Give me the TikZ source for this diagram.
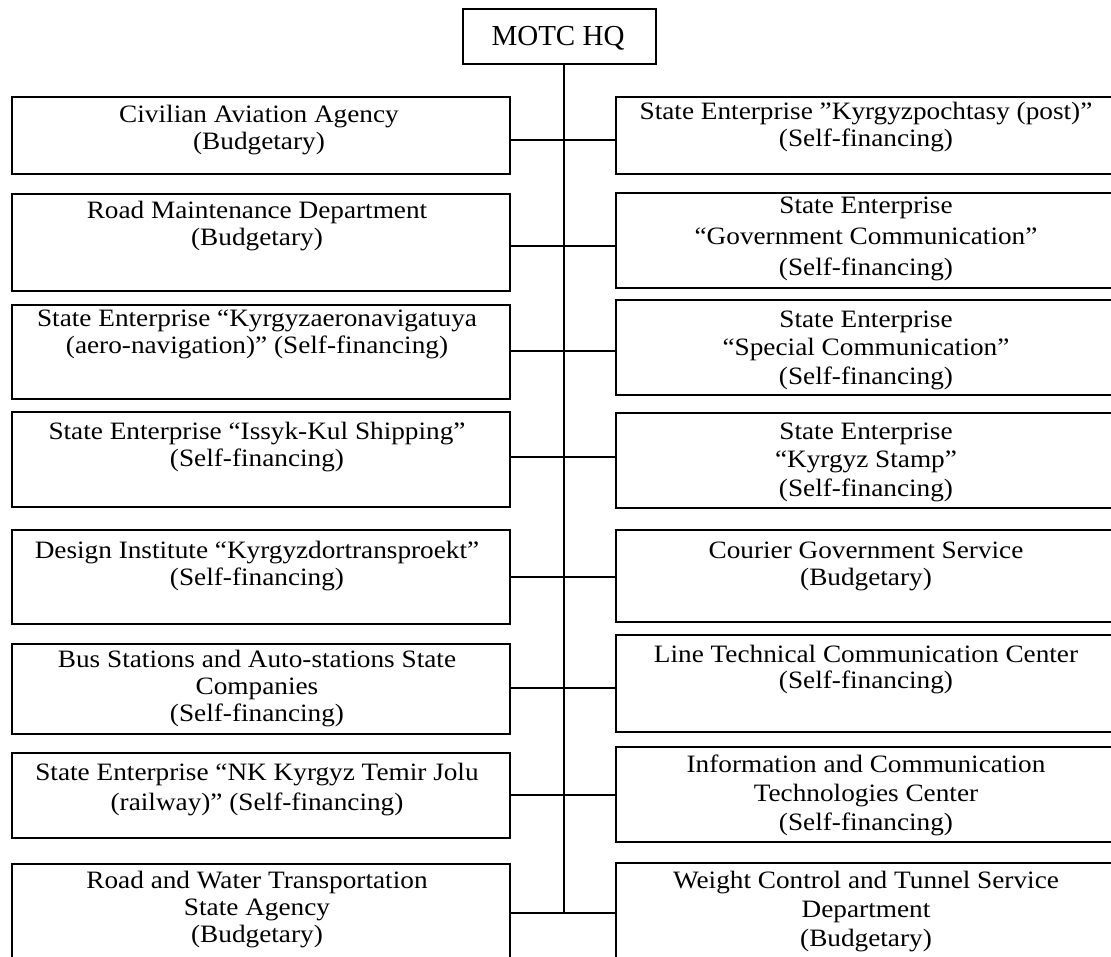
\documentclass[tikz,border=0pt]{standalone}
\usepackage{fontspec}
\setmainfont{Liberation Serif}[FakeStretch=1.09]
\newfontfamily\hqfont{Liberation Serif}
\begin{document}
\begin{tikzpicture}[x=1pt,y=-1pt,
  box/.style={draw,line width=1.8pt,inner sep=0pt,anchor=north west,minimum width=498pt},
  rbox/.style={box,minimum width=502pt},
  txt/.style={anchor=base,align=center,inner sep=0pt,font=\fontsize{25}{27}\selectfont},
  conn/.style={line width=1.4pt}]
\useasboundingbox (0,0) rectangle (1111,956);
\clip (0,0) rectangle (1111,956);

% HQ
\node[draw,line width=1.8pt,inner sep=0pt,minimum width=193pt,minimum height=55pt,anchor=north west] (hq) at (462,8) {};
\node[anchor=base,inner sep=0pt,font=\hqfont\fontsize{29}{32}\selectfont] (hqt) at (558,45) {MOTC HQ};

% left boxes
\node[box,minimum height=77pt] (L1) at (11,96) {};
\node[box,minimum height=97pt] (L2) at (11,193) {};
\node[box,minimum height=94pt] (L3) at (11,304) {};
\node[box,minimum height=95pt] (L4) at (11,411) {};
\node[box,minimum height=94pt] (L5) at (11,529) {};
\node[box,minimum height=90pt] (L6) at (11,643) {};
\node[box,minimum height=85pt] (L7) at (11,752) {};
\node[box,minimum height=120pt] (L8) at (11,863) {};

% right boxes
\node[rbox,minimum height=77pt] (R1) at (615,96) {};
\node[rbox,minimum height=95pt] (R2) at (615,192) {};
\node[rbox,minimum height=95pt] (R3) at (615,299) {};
\node[rbox,minimum height=95pt] (R4) at (615,412) {};
\node[rbox,minimum height=92pt] (R5) at (615,529) {};
\node[rbox,minimum height=97pt] (R6) at (615,634) {};
\node[rbox,minimum height=95pt] (R7) at (615,746) {};
\node[rbox,minimum height=120pt] (R8) at (615,862) {};

% left texts (anchor = baseline of last line)
\node[txt] (L1t) at (259,149) {Civilian Aviation Agency\\(Budgetary)};
\node[txt] (L2t) at (257,245) {Road Maintenance Department\\(Budgetary)};
\node[txt] (L3t) at (257,353) {State Enterprise “Kyrgyzaeronavigatuya\\(aero-navigation)” (Self-financing)};
\node[txt] (L4t) at (257,466) {State Enterprise “Issyk-Kul Shipping”\\(Self-financing)};
\node[txt] (L5t) at (257,585) {Design Institute “Kyrgyzdortransproekt”\\(Self-financing)};
\node[txt] (L6t) at (257,721) {Bus Stations and Auto-stations State\\Companies\\(Self-financing)};
\node[txt,font=\fontsize{25}{30}\selectfont] (L7t) at (257,810) {State Enterprise “NK Kyrgyz Temir Jolu\\(railway)” (Self-financing)};
\node[txt] (L8t) at (257,942) {Road and Water Transportation\\State Agency\\(Budgetary)};

% right texts
\node[txt] (R1t) at (866,146) {State Enterprise ”Kyrgyzpochtasy (post)”\\(Self-financing)};
\node[txt,font=\fontsize{25}{31}\selectfont] (R2t) at (866,275) {State Enterprise\\“Government Communication”\\(Self-financing)};
\node[txt,font=\fontsize{25}{28.5}\selectfont] (R3t) at (866,384) {State Enterprise\\“Special Communication”\\(Self-financing)};
\node[txt,font=\fontsize{25}{28.5}\selectfont] (R4t) at (866,496) {State Enterprise\\“Kyrgyz Stamp”\\(Self-financing)};
\node[txt] (R5t) at (866,585) {Courier Government Service\\(Budgetary)};
\node[txt,font=\fontsize{25}{26.5}\selectfont] (R6t) at (866,688.5) {Line Technical Communication Center\\(Self-financing)};
\node[txt,font=\fontsize{25}{29}\selectfont] (R7t) at (866,830) {Information and Communication\\Technologies Center\\(Self-financing)};
\node[txt,font=\fontsize{25}{29}\selectfont] (R8t) at (866,946) {Weight Control and Tunnel Service\\Department\\(Budgetary)};

% trunk junctions
\coordinate (t1) at (564,140);
\coordinate (t2) at (564,246);
\coordinate (t3) at (564,351);
\coordinate (t4) at (564,457);
\coordinate (t5) at (564,577);
\coordinate (t6) at (564,688);
\coordinate (t7) at (564,795);
\coordinate (t8) at (564,913);

\draw[conn] (hq.south -| t1) -- (t8);
\foreach \i in {1,...,8}{
  \draw[conn] (L\i.east |- t\i) -- (R\i.west |- t\i);
}
\end{tikzpicture}
\end{document}
